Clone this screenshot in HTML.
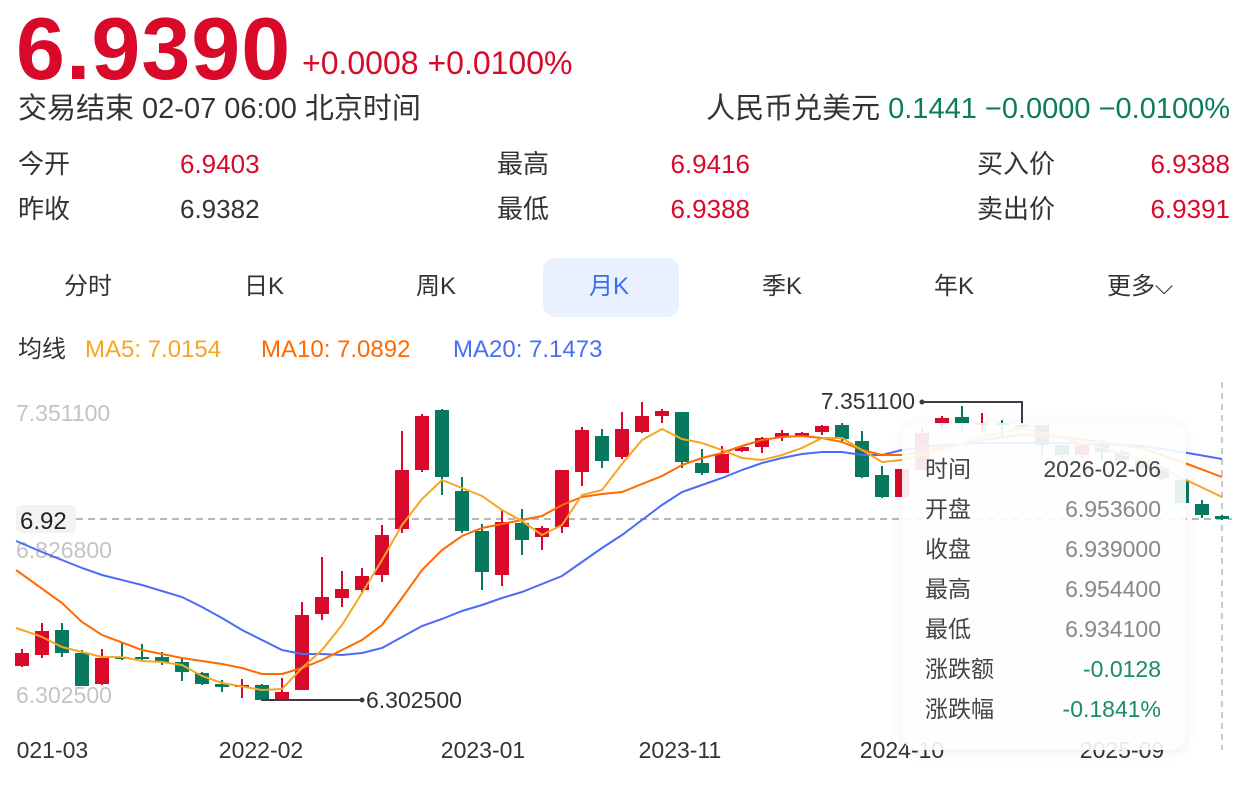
<!DOCTYPE html>
<html><head><meta charset="utf-8">
<style>
body{margin:0;width:1252px;height:786px;background:#fff;overflow:hidden;font-family:"Liberation Sans","Noto Sans CJK SC",sans-serif;position:relative;color:#333}
.a{position:absolute;white-space:nowrap;line-height:1}
.r{color:#d9092a}.g{color:#0a7d5e}
.f{font-size:26px}
</style></head><body>
<div class="a r" style="left:16px;top:5px;font-size:88px;font-weight:bold;letter-spacing:1px">6.9390</div>
<div class="a r" style="left:302px;top:47px;font-size:32px">+0.0008 +0.0100%</div>
<div class="a" style="left:18px;top:95px;font-size:29px">交易结束 02-07 06:00 北京时间</div>
<div class="a" style="right:22px;top:95px;font-size:29px">人民币兑美元 <span class="g">0.1441 −0.0000 −0.0100%</span></div>
<div class="a f" style="left:18px;top:151px">今开</div>
<div class="a r f" style="left:180px;top:151px">6.9403</div>
<div class="a f" style="left:18px;top:196px">昨收</div>
<div class="a f" style="left:180px;top:196px">6.9382</div>
<div class="a f" style="left:497px;top:151px">最高</div>
<div class="a r f" style="right:502px;top:151px">6.9416</div>
<div class="a f" style="left:497px;top:196px">最低</div>
<div class="a r f" style="right:502px;top:196px">6.9388</div>
<div class="a f" style="left:977px;top:151px">买入价</div>
<div class="a r f" style="right:22px;top:151px">6.9388</div>
<div class="a f" style="left:977px;top:196px">卖出价</div>
<div class="a r f" style="right:22px;top:196px">6.9391</div>
<div class="a" style="left:543px;top:258px;width:136px;height:59px;background:#e8f1fd;border-radius:12px"></div>
<div class="a" style="left:64px;top:275px;font-size:24px">分时</div>
<div class="a" style="left:244px;top:275px;font-size:24px">日K</div>
<div class="a" style="left:416px;top:275px;font-size:24px">周K</div>
<div class="a" style="left:589px;top:275px;font-size:24px;color:#3a6ee8">月K</div>
<div class="a" style="left:762px;top:275px;font-size:24px">季K</div>
<div class="a" style="left:934px;top:275px;font-size:24px">年K</div>
<div class="a" style="left:1107px;top:275px;font-size:24px">更多⌵</div>
<div class="a" style="left:18px;top:338px;font-size:24px">均线</div>
<div class="a" style="left:85px;top:338px;font-size:24px;color:#f5a623">MA5: 7.0154</div>
<div class="a" style="left:261px;top:338px;font-size:24px;color:#ff6a00">MA10: 7.0892</div>
<div class="a" style="left:453px;top:338px;font-size:24px;color:#4a6cf7">MA20: 7.1473</div>
<svg class="a" style="left:0;top:0" width="1252" height="786" id="c" font-family="Liberation Sans, sans-serif">
<text x="16" y="421" font-size="23" fill="#c3c3c8">7.351100</text>
<text x="16" y="558" font-size="23" fill="#c3c3c8">6.826800</text>
<text x="16" y="703" font-size="23" fill="#c3c3c8">6.302500</text>
<line x1="16" y1="519" x2="1232" y2="519" stroke="#b8b8b8" stroke-width="2" stroke-dasharray="7,5"/>
<line x1="1222" y1="382" x2="1222" y2="750" stroke="#b8b8b8" stroke-width="1.5" stroke-dasharray="6,5"/>
<g id="cs"></g>
<rect x="16" y="505" width="60" height="28" rx="5" fill="#f3f3f3"/>
<text x="20" y="529" font-size="24" fill="#222">6.92</text>
<polyline points="922,402 1022,402 1022,425" fill="none" stroke="#3a3d48" stroke-width="2"/>
<circle cx="922" cy="402" r="2.5" fill="#3a3d48"/>
<text x="915" y="409" font-size="23" fill="#333" text-anchor="end">7.351100</text>
<polyline points="262,700 362,700" fill="none" stroke="#3a3d48" stroke-width="2"/>
<circle cx="362" cy="700" r="2.5" fill="#3a3d48"/>
<text x="366" y="708" font-size="23" fill="#333">6.302500</text>
<g font-size="23" fill="#333" text-anchor="middle">
<text x="46" y="758">2021-03</text><text x="261" y="758">2022-02</text><text x="483" y="758">2023-01</text>
<text x="680" y="758">2023-11</text><text x="902" y="758">2024-10</text><text x="1122" y="758">2025-09</text></g>
<rect x="0" y="730" width="16" height="40" fill="#fff"/>
<rect x="902" y="423" width="284" height="327" rx="16" fill="#fff" fill-opacity="0.9" style="filter:drop-shadow(0 2px 6px rgba(0,0,0,0.08))"/>
<g font-size="23" font-family="Liberation Sans, Noto Sans CJK SC, sans-serif">
<g fill="#444"><text x="925" y="477">时间</text><text x="925" y="517">开盘</text><text x="925" y="557">收盘</text><text x="925" y="597">最高</text><text x="925" y="637">最低</text><text x="925" y="677">涨跌额</text><text x="925" y="717">涨跌幅</text></g>
<g text-anchor="end" fill="#888"><text x="1161" y="477" fill="#444">2026-02-06</text><text x="1161" y="517">6.953600</text><text x="1161" y="557">6.939000</text><text x="1161" y="597">6.954400</text><text x="1161" y="637">6.934100</text><text x="1161" y="677" fill="#1a8a6a">-0.0128</text><text x="1161" y="717" fill="#1a8a6a">-0.1841%</text></g></g>
</svg>
<script>
var R='#d9092a',G='#07795f';
var d=[[1,653,666,649,667],[1,631,655,623,658],[0,630,653,623,657],[0,653,686,650,686],[1,658,684,649,685],[0,657,659,643,660],[0,657,659,644,660],[0,657,662,652,665],[0,662,672,657,681],[0,673,684,672,685],[0,684,687,680,692],[1,685,687,679,698],[0,685,700,684,701],[1,692,701,678,701],[1,615,690,602,690],[1,597,614,557,620],[1,589,598,571,607],[1,576,590,568,592],[1,535,575,525,582],[1,470,529,431,533],[1,416,470,414,472],[0,410,477,409,495],[0,491,531,477,533],[0,531,572,524,590],[1,522,575,510,586],[0,523,540,509,555],[1,528,537,526,550],[1,470,527,470,533],[1,430,472,427,486],[0,436,461,429,468],[1,429,457,412,459],[1,416,432,402,433],[1,411,416,409,423],[0,412,462,412,468],[0,463,473,449,475],[1,454,473,446,473],[1,447,451,445,452],[1,438,447,437,453],[1,433,437,430,441],[1,433,437,432,437],[1,426,432,425,435],[0,425,439,423,441],[0,441,477,431,478],[0,475,497,466,498],[1,469,497,469,497],[1,433,470,428,470],[1,418,424,416,429],[0,417,424,406,431],[1,423,425,413,432],[0,423,425,420,437],[1,425,427,402,427],[0,425,445,425,455],[0,445,455,443,458],[1,445,455,443,458],[0,445,452,440,460],[0,452,460,450,463],[0,460,468,458,470],[0,468,478,466,480],[0,480,503,480,505],[0,504,515,500,518],[0,516,519,515,520]];
var s='';
d.forEach(function(c,i){var x=22+20*i,col=c[0]?R:G;
s+='<line x1="'+x+'" y1="'+c[3]+'" x2="'+x+'" y2="'+c[4]+'" stroke="'+col+'" stroke-width="2"/>';
s+='<rect x="'+(x-7)+'" y="'+c[1]+'" width="14" height="'+Math.max(2,c[2]-c[1])+'" fill="'+col+'"/>';});
function pl(p,c){return '<polyline points="'+p+'" fill="none" stroke="'+c+'" stroke-width="2"/>';}
s+=pl('16,541 42,552 62,560 82,568 102,575 142,585 182,597 202,607 222,618 242,630 262,640 282,650 302,654 322,654 342,655 362,653 382,648 402,637 422,626 442,619 462,611 482,605 502,598 522,592 542,584 562,576 582,562 602,548 622,535 642,520 662,505 682,492 702,485 722,478 742,470 762,463 782,458 802,454 822,452 842,452 862,455 882,455 902,450 942,445 982,443 1022,443 1062,443 1102,444 1142,446 1182,452 1222,459','#4a6cf7');
s+=pl('16,570 62,603 82,622 102,635 142,650 182,658 222,664 242,668 262,674 282,674 302,668 322,660 342,650 362,640 382,625 402,598 422,570 442,550 462,536 482,528 502,524 522,520 542,516 562,505 582,497 602,494 622,492 642,484 662,476 682,465 702,458 722,453 742,446 762,440 782,437 802,436 822,438 842,442 862,450 882,455 902,455 942,448 982,440 1022,435 1062,437 1102,442 1142,448 1182,462 1222,477','#ff6a00');
s+=pl('16,628 40,636 62,647 102,657 122,657 142,661 162,662 182,665 202,676 222,683 262,690 282,689 302,668 322,650 342,625 362,593 382,560 402,525 422,499 442,480 462,488 482,496 502,510 522,521 542,535 562,525 582,495 602,490 622,464 642,440 662,429 682,439 702,443 722,450 742,458 762,460 782,455 802,448 822,438 842,438 862,450 882,462 902,460 942,450 982,437 1022,428 1062,438 1102,448 1142,460 1182,478 1222,497','#f5a623');
document.getElementById('cs').innerHTML=s;
</script>
</body></html>
